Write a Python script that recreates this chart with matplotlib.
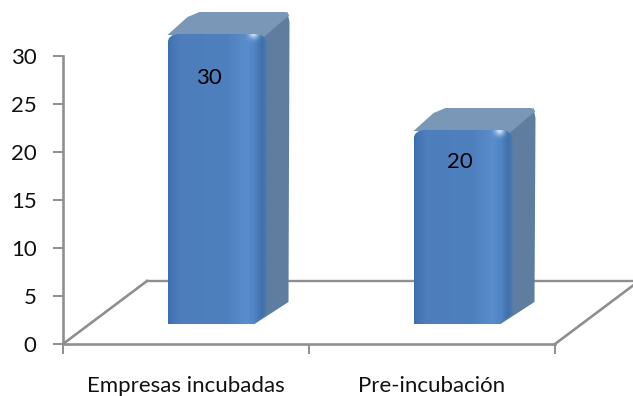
import matplotlib
matplotlib.use("Agg")
import matplotlib.pyplot as plt
import numpy as np
from matplotlib.path import Path
from matplotlib.patches import PathPatch, Polygon
from matplotlib.colors import LinearSegmentedColormap

plt.rcParams['font.family'] = ['Lato', 'DejaVu Sans']

categorias = ["Empresas incubadas", "Pre-incubación"]
valores = [30, 20]
yticks = [0, 5, 10, 15, 20, 25, 30]

W, H = 633, 396
fig = plt.figure(figsize=(W / 100, H / 100), dpi=100, facecolor="white")
# Achse in Pixeln: x 63-555, y 344 (0) bis 56 (30)
ax = fig.add_axes([63 / W, 1 - 344 / H, (555 - 63) / W, (344 - 56) / H])
ax.set_xlim(-0.5, 1.5)
ax.set_ylim(0, 30)

px_x = 2 / (555 - 63)      # eine Pixelbreite in Datenkoordinaten
px_y = 30 / (344 - 56)

gris = "#8f8f8f"
for s in ["top", "right"]:
    ax.spines[s].set_visible(False)
for s in ["left", "bottom"]:
    ax.spines[s].set_color(gris)
    ax.spines[s].set_linewidth(1.9)

ax.set_yticks(yticks)
ax.set_xticks([-0.5, 0.5, 1.5])
ax.set_xticklabels([])
ax.set_xticks([0, 1], minor=True)
ax.set_xticklabels(categorias, minor=True, fontsize=16, color="#111111")
ax.tick_params(axis="x", which="minor", length=0, pad=23)
ax.tick_params(axis="x", which="major", length=7, width=1.4, color=gris)
ax.tick_params(axis="y", length=7, width=1.4, color=gris, labelsize=16, pad=12, labelcolor="#111111")

# Boden (3D-Effekt)
depth_x = 84 * px_x
depth_y = 63 * px_y
ax.plot([-0.5, -0.5 + depth_x], [0, depth_y], color=gris, lw=1.9, clip_on=False, zorder=1)
ax.plot([-0.5 + depth_x, 1.5 + depth_x], [depth_y, depth_y], color=gris, lw=1.7, clip_on=False, zorder=1)
ax.plot([1.5, 1.5 + depth_x], [0, depth_y], color=gris, lw=1.9, clip_on=False, zorder=1)

cmap = LinearSegmentedColormap.from_list("barra", [
    (0.0, "#3d6fae"), (0.04, "#4676b5"), (0.12, "#4d7dbb"), (0.6, "#4f80be"),
    (0.8, "#5a8dcd"), (0.88, "#5084c3"), (0.96, "#3f70ab"), (1.0, "#4a7cb0")])

ancho = 99 * px_x
off_x = 31 * px_x
off_y = 20 * px_y
lado_x = 23 * px_x
lado_y = 22 * px_y
r_x = 12 * px_x
r_y = 10 * px_y

for i, v in enumerate(valores):
    x0 = i - ancho / 2 + off_x
    x1 = x0 + ancho
    y0 = off_y
    y1 = v + off_y + 2 * px_y

    # rechte Seite
    ax.add_patch(Polygon([(x1 - r_x, y0), (x1 + lado_x - 1 * px_x, y0 + lado_y), (x1 + lado_x, y1 + lado_y - r_y),
                          (x1 + lado_x - 2 * px_x, y1 + lado_y), (x1 - r_x, y1)],
                         closed=True, fc="#5f7d9e", ec="none", zorder=3, clip_on=False))
    # Deckel
    deckel = [(x0, y1 - 1 * px_y), (x0 + 20 * px_x, y1 + lado_y - 5 * px_y), (x0 + 32 * px_x, y1 + lado_y),
              (x1 + lado_x - 4 * px_x, y1 + lado_y), (x1 + lado_x, y1 + lado_y - 3 * px_y),
              (x1 - 4 * px_x, y1 - 4 * px_y)]
    ax.add_patch(Polygon(deckel, closed=True, fc="#7a97b8", ec="none", zorder=4, clip_on=False))

    # Vorderseite mit Verlauf
    verts = [(x0, y0), (x1 - r_x, y0), (x1, y0 + r_y), (x1, y1 - r_y), (x1, y1), (x1 - r_x, y1),
             (x0 + r_x, y1), (x0, y1), (x0, y1 - r_y), (x0, y0)]
    codes = [Path.MOVETO, Path.LINETO, Path.LINETO, Path.LINETO, Path.CURVE3, Path.CURVE3,
             Path.LINETO, Path.CURVE3, Path.CURVE3, Path.CLOSEPOLY]
    cara = PathPatch(Path(verts, codes), fc="none", ec="none", transform=ax.transData, clip_on=False)
    ax.add_patch(cara)

    # horizontaler Verlauf + Glanz oben rechts
    n_y = int((y1 - y0) / px_y)
    xx, yy = np.meshgrid(np.linspace(0, 1, 99), np.arange(n_y))
    rgb = cmap(xx)[:, :, :3]
    glanz = np.exp(-(((xx - 0.87) * 99 / 5) ** 2 + (yy / 5.0) ** 2))[:, :, None]
    rgb = rgb + (np.array([0.85, 0.92, 1.0]) - rgb) * glanz * 0.9
    im = ax.imshow(rgb, extent=[x0, x1, y0, y1], aspect="auto", zorder=5, origin="upper")
    im.set_clip_box(fig.bbox)     # sonst schneidet die Achse oben ab
    im.set_clip_path(cara)

ax.set_xlim(-0.5, 1.5)
ax.set_ylim(0, 30)

# Werte
ax.text(0 + 23 * px_x, valores[0] + off_y - 42 * px_y, str(valores[0]), ha="center", va="center",
        fontsize=16, color="black", zorder=7)
ax.text(1 + 28 * px_x, valores[1] + off_y - 30 * px_y, str(valores[1]), ha="center", va="center",
        fontsize=16, color="black", zorder=7)

fig.savefig("out.png", dpi=100, facecolor="white")
